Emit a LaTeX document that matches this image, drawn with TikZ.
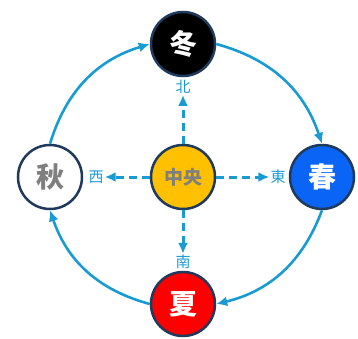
\documentclass[tikz,border=0pt]{standalone}
\usepackage{fontspec}
\newfontfamily\cjk{Noto Sans CJK SC}
\usetikzlibrary{shapes,arrows.meta}
\definecolor{arrowblue}{RGB}{24,155,210}
\definecolor{rim}{RGB}{31,58,92}
\definecolor{gold}{RGB}{255,192,0}
\definecolor{midgray}{RGB}{127,127,127}
\definecolor{springblue}{RGB}{10,100,245}
\tikzstyle{season} = [circle, draw=rim, line width=2.5pt, minimum size=64pt,
    inner sep=0pt, text=white, font=\cjk\bfseries\fontsize{28}{28}\selectfont]
\tikzstyle{dir} = [text=arrowblue, inner sep=1pt, font=\cjk\fontsize{15}{15}\selectfont]
\tikzstyle{line} = [draw=arrowblue, line width=2.6pt, -{Latex[length=11pt,width=10pt]}]
\tikzstyle{dashline} = [line, line width=3pt, dash pattern=on 8pt off 5pt]

\begin{document}
\begin{tikzpicture}[node distance=133pt, auto]
	\useasboundingbox (0,0) rectangle (358pt,338pt);

	\node [season, fill=gold, text=midgray, font=\cjk\bfseries\fontsize{19}{19}\selectfont] (center) at (183pt,161pt) {中央};

	\node [season, fill=black, above of=center] (winter) {冬};
	\node [season, fill=springblue, right of=center, xshift=6pt] (spring) {春};
	\node [season, fill=red, below of=center, yshift=6pt] (summer) {夏};
	\node [season, fill=white, text=midgray, left of=center] (autumn) {秋};

	\path [line] (winter.east) to[bend left=28] (spring.north);
	\path [line] (spring.south) to[bend left=28] (summer.east);
	\path [line] (summer.west) to[bend left=28] (autumn.south);
	\path [line] (autumn.north) to[bend left=28] (winter.west);

	\node [dir, above of=center, node distance=90pt] (north) {北};
	\node [dir, below of=center, node distance=85pt] (south) {南};
	\node [dir, left of=center, node distance=87pt] (west) {西};
	\node [dir, right of=center, node distance=95pt] (east) {東};

	\path [dashline] (center) -- (north);
	\path [dashline] (center) -- (south);
	\path [dashline] (center) -- (west);
	\path [dashline] (center) -- (east);
\end{tikzpicture}
\end{document}
